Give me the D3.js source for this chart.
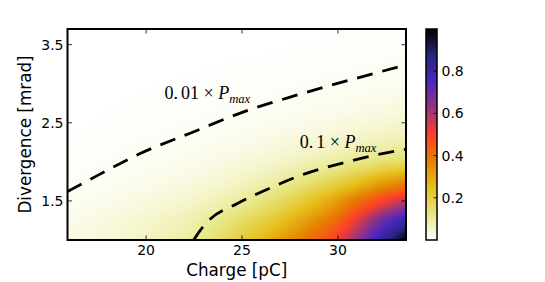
<!DOCTYPE html>
<meta charset="utf-8">
<html>
<head>
<script src="https://d3js.org/d3.v7.min.js"></script>
<style>
  body { margin: 0; background: #fff; }
  text { font-family: "DejaVu Sans", sans-serif; fill: #000; }
  .tick-label { font-size: 14px; }
  .axis-label { font-size: 16.8px; }
  .note { font-family: "Liberation Serif", serif; font-size: 18px; }
</style>
</head>
<body>
<svg width="545" height="282"></svg>
<script>
// ---- data ----
var charge = [16, 17.25, 18.5, 19.75, 21, 22.25, 23.5, 24.75, 26, 27.25, 28.5, 29.75, 31, 32.25, 33.5];
var divergence = [1.0, 1.27, 1.54, 1.81, 2.08, 2.35, 2.62, 2.89, 3.16, 3.43, 3.7];
// one row per divergence value, one column per charge value (P / Pmax)
var power = [
  [0.028, 0.036, 0.045, 0.057, 0.073, 0.096, 0.14, 0.2, 0.26, 0.33, 0.41, 0.5, 0.64, 0.82, 1.0],
  [0.021, 0.027, 0.034, 0.044, 0.058, 0.076, 0.104, 0.145, 0.19, 0.25, 0.32, 0.4, 0.53, 0.68, 0.8],
  [0.012, 0.0162, 0.021, 0.0274, 0.0355, 0.0455, 0.062, 0.087, 0.12, 0.16, 0.22, 0.29, 0.38, 0.47, 0.55],
  [0.0069, 0.0097, 0.0131, 0.017, 0.0218, 0.0276, 0.0366, 0.05, 0.067, 0.09, 0.12, 0.16, 0.21, 0.27, 0.31],
  [0.004, 0.0058, 0.0081, 0.0105, 0.0134, 0.0168, 0.022, 0.029, 0.0375, 0.048, 0.06, 0.075, 0.092, 0.11, 0.125],
  [0.0023, 0.0035, 0.005, 0.0066, 0.0082, 0.0102, 0.0132, 0.0169, 0.0213, 0.027, 0.033, 0.04, 0.048, 0.058, 0.067],
  [0.0013, 0.0021, 0.0031, 0.0041, 0.005, 0.0062, 0.0079, 0.0098, 0.0121, 0.015, 0.0183, 0.022, 0.026, 0.032, 0.038],
  [0.0008, 0.0013, 0.0019, 0.0025, 0.0031, 0.0037, 0.0047, 0.0057, 0.0069, 0.0084, 0.0102, 0.0124, 0.0147, 0.018, 0.021],
  [0.0005, 0.0008, 0.0012, 0.0016, 0.0019, 0.0023, 0.0028, 0.0033, 0.0039, 0.0047, 0.0056, 0.007, 0.0082, 0.01, 0.012],
  [0.0003, 0.0005, 0.0007, 0.001, 0.0012, 0.0014, 0.0017, 0.0019, 0.0022, 0.0026, 0.0031, 0.0039, 0.0046, 0.0055, 0.0067],
  [0.0002, 0.0003, 0.0004, 0.0006, 0.0007, 0.0008, 0.001, 0.0011, 0.0013, 0.0015, 0.0017, 0.0022, 0.0026, 0.0031, 0.0037]
];
// dashed iso-power lines, [charge, divergence]
var contour01 = [[15.9, 1.62], [17.5, 1.83], [19.63, 2.10], [22.33, 2.37], [25.08, 2.64], [27.8, 2.85], [30.52, 3.04], [33.55, 3.24]];
var contour10 = [[22.48, 1.0], [22.81, 1.12], [23.26, 1.25], [24.71, 1.46], [26.33, 1.65], [28.32, 1.85], [30.32, 1.99], [33.06, 2.14], [33.55, 2.16]];
var notes = [
  { level: "0.", frac: "01", q: 20.96, d: 2.80 },
  { level: "0.", frac: "1", q: 28.01, d: 2.18 }
];
var xTicks = [20, 25, 30];
var yTicks = [1.5, 2.5, 3.5];
var cbTicks = [0.2, 0.4, 0.6, 0.8];
// CMRmap reversed
var cmapStops = [0, 0.125, 0.25, 0.375, 0.5, 0.625, 0.75, 0.875, 1];
var cmapColors = ["#ffffff", "#e6e680", "#e6bf1a", "#e68000", "#ff4026", "#993380", "#4d26bf", "#262680", "#000000"];

//___________________________ SETUP ___________________________
var svg = d3.select("svg");
var pLeft = 67.5, pRight = 406, pTop = 29, pBottom = 240;

var x = d3.scaleLinear().domain([15.9, 33.55]).range([pLeft, pRight]);
var y = d3.scaleLinear().domain([1.0, 3.7]).range([pBottom, pTop]);
var cmap = d3.scaleLinear().domain(cmapStops).range(cmapColors).clamp(true);

//___________________________ HEATMAP ___________________________
var colIdx = d3.scaleLinear().domain(charge).range(d3.range(charge.length)).clamp(true);
var rowIdx = d3.scaleLinear().domain(divergence).range(d3.range(divergence.length)).clamp(true);
var logP = power.map(function(r) { return r.map(Math.log); });

var W = Math.round(pRight - pLeft), H = Math.round(pBottom - pTop);
var canvas = document.createElement("canvas");
canvas.width = W; canvas.height = H;
var ctx = canvas.getContext("2d");
var img = ctx.createImageData(W, H);
for (var py = 0; py < H; py++) {
  var fi = rowIdx(y.invert(pTop + (py + 0.5) * (pBottom - pTop) / H));
  var i0 = Math.floor(fi), i1 = Math.min(i0 + 1, divergence.length - 1), ti = fi - i0;
  for (var px = 0; px < W; px++) {
    var fj = colIdx(x.invert(pLeft + (px + 0.5) * (pRight - pLeft) / W));
    var j0 = Math.floor(fj), j1 = Math.min(j0 + 1, charge.length - 1), tj = fj - j0;
    var a = logP[i0][j0] * (1 - tj) + logP[i0][j1] * tj;
    var b = logP[i1][j0] * (1 - tj) + logP[i1][j1] * tj;
    var c = d3.rgb(cmap(Math.exp(a * (1 - ti) + b * ti)));
    var k = (py * W + px) * 4;
    img.data[k] = c.r; img.data[k + 1] = c.g; img.data[k + 2] = c.b; img.data[k + 3] = 255;
  }
}
ctx.putImageData(img, 0, 0);

svg.append("image")
  .attr("x", pLeft).attr("y", pTop)
  .attr("width", pRight - pLeft).attr("height", pBottom - pTop)
  .attr("preserveAspectRatio", "none")
  .attr("href", canvas.toDataURL());

//___________________________ CONTOURS ___________________________
svg.append("clipPath").attr("id", "plotclip")
  .append("rect").attr("x", pLeft).attr("y", pTop)
  .attr("width", pRight - pLeft).attr("height", pBottom - pTop);

var line = d3.line()
  .x(function(d) { return x(d[0]); })
  .y(function(d) { return y(d[1]); })
  .curve(d3.curveMonotoneX);

svg.append("g").attr("clip-path", "url(#plotclip)")
  .selectAll("path")
  .data([contour01, contour10])
  .enter().append("path")
    .attr("d", line)
    .attr("fill", "none")
    .attr("stroke", "#000")
    .attr("stroke-width", 2.8)
    .attr("stroke-dasharray", "16,10");

var note = svg.selectAll(".note")
  .data(notes)
  .enter().append("text")
    .attr("class", "note")
    .attr("x", function(d) { return x(d.q); })
    .attr("y", function(d) { return y(d.d); });
note.append("tspan").text(function(d) { return d.level; });
note.append("tspan").attr("dx", 3).text(function(d) { return d.frac + " \u00d7 "; });
note.append("tspan").attr("font-style", "italic").text("P");
note.append("tspan").attr("font-style", "italic").attr("font-size", "12.6px").attr("dy", 4).text("max");

//___________________________ AXES ___________________________
var ticks = svg.append("g").attr("stroke", "#000").attr("stroke-width", 0.8);
xTicks.forEach(function(t) {
  ticks.append("line").attr("x1", x(t)).attr("x2", x(t)).attr("y1", pBottom).attr("y2", pBottom - 4.5);
  ticks.append("line").attr("x1", x(t)).attr("x2", x(t)).attr("y1", pTop).attr("y2", pTop + 4.5);
});
yTicks.forEach(function(t) {
  ticks.append("line").attr("y1", y(t)).attr("y2", y(t)).attr("x1", pLeft).attr("x2", pLeft + 4.5);
  ticks.append("line").attr("y1", y(t)).attr("y2", y(t)).attr("x1", pRight).attr("x2", pRight - 4.5);
});

svg.append("rect")
  .attr("x", pLeft).attr("y", pTop)
  .attr("width", pRight - pLeft).attr("height", pBottom - pTop)
  .attr("fill", "none").attr("stroke", "#000").attr("stroke-width", 2);

svg.selectAll(".xlab").data(xTicks).enter().append("text")
  .attr("class", "tick-label")
  .attr("x", function(d) { return x(d); })
  .attr("y", 255)
  .attr("text-anchor", "middle")
  .text(function(d) { return d; });

svg.selectAll(".ylab").data(yTicks).enter().append("text")
  .attr("class", "tick-label")
  .attr("x", pLeft - 4)
  .attr("y", function(d) { return y(d); })
  .attr("dy", "0.36em")
  .attr("text-anchor", "end")
  .text(function(d) { return d.toFixed(1); });

svg.append("text").attr("class", "axis-label")
  .attr("x", (pLeft + pRight) / 2).attr("y", 275.5)
  .attr("text-anchor", "middle")
  .text("Charge [pC]");

svg.append("text").attr("class", "axis-label")
  .attr("transform", "translate(31," + ((pTop + pBottom) / 2) + ") rotate(-90)")
  .attr("text-anchor", "middle")
  .text("Divergence [mrad]");

//___________________________ COLORBAR ___________________________
var cbX = 426, cbW = 11;
var cy = d3.scaleLinear().domain([0, 1]).range([pBottom, pTop]);

var grad = svg.append("defs").append("linearGradient")
  .attr("id", "cbgrad")
  .attr("x1", 0).attr("y1", 1).attr("x2", 0).attr("y2", 0);
grad.selectAll("stop")
  .data(d3.range(0, 1.0001, 0.025))
  .enter().append("stop")
    .attr("offset", function(d) { return d; })
    .attr("stop-color", function(d) { return cmap(d); });

svg.append("rect")
  .attr("x", cbX).attr("y", pTop)
  .attr("width", cbW).attr("height", pBottom - pTop)
  .attr("fill", "url(#cbgrad)")
  .attr("stroke", "#000").attr("stroke-width", 1.5);

svg.append("g").attr("stroke", "#000").attr("stroke-width", 0.8)
  .selectAll("line").data(cbTicks).enter().append("line")
    .attr("x1", cbX + cbW).attr("x2", cbX + cbW - 3.5)
    .attr("y1", function(d) { return cy(d); })
    .attr("y2", function(d) { return cy(d); });

svg.selectAll(".cblab").data(cbTicks).enter().append("text")
  .attr("class", "tick-label")
  .attr("x", cbX + cbW + 4.5)
  .attr("y", function(d) { return cy(d); })
  .attr("dy", "0.36em")
  .text(function(d) { return d.toFixed(1); });
</script>
</body>
</html>
